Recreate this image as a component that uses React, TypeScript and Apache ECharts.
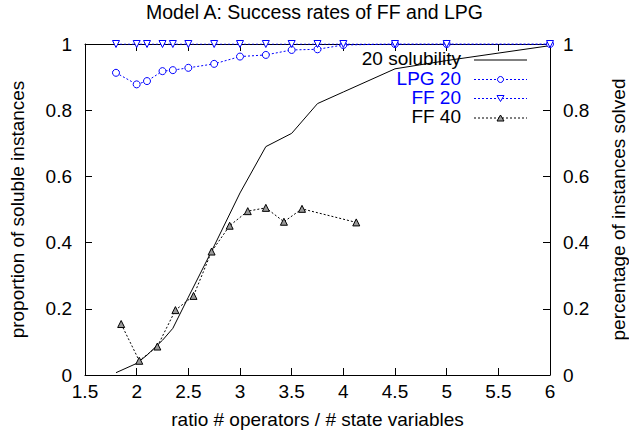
import React, { useEffect, useRef } from "react";
import * as echarts from "echarts";

const ratios20 = [1.8, 2.0, 2.1, 2.25, 2.35, 2.5, 2.75, 3.0, 3.25, 3.5, 3.75, 4.0, 4.5, 5.0, 6.0];
const solubility20 = [0.007, 0.035, 0.06, 0.105, 0.141, 0.235, 0.39, 0.55, 0.69, 0.73, 0.82, 0.855, 0.925, 0.95, 0.995];
const lpg20 = [0.913, 0.878, 0.888, 0.918, 0.921, 0.928, 0.94, 0.962, 0.967, 0.982, 0.984, 0.997, 1.0, 1.0, 1.0];
const ff20 = [1, 1, 1, 1, 1, 1, 1, 1, 1, 1, 1, 1, 1, 1, 1];

const ratios40 = [1.85, 2.025, 2.2, 2.375, 2.55, 2.725, 2.9, 3.075, 3.25, 3.425, 3.6, 4.125];
const ff40 = [0.154, 0.043, 0.086, 0.196, 0.239, 0.373, 0.451, 0.495, 0.505, 0.463, 0.502, 0.461];

const legendNames = ["20 solubility", "LPG 20", "FF 20", "FF 40"];

const FONT = "'Liberation Sans', Arial, Helvetica, sans-serif";
const BLUE = "#0000ff";

function pairs(xs: number[], ys: number[]) {
  return xs.map((x, i) => [x, ys[i]]);
}

export default function App() {
  const ref = useRef<HTMLDivElement>(null);
  useEffect(() => {
    document.body.style.margin = "0";
    const chart = echarts.init(ref.current!, null, { renderer: "svg" });
    const axisText = { color: "#000", fontFamily: FONT, fontSize: 19 };
    const yAxisBase = {
      type: "value",
      min: 0,
      max: 1,
      interval: 0.2,
      splitLine: { show: false },
      axisLine: { show: true, lineStyle: { color: "#000", width: 1 } },
      axisTick: { show: true, inside: true, length: 7, lineStyle: { color: "#000" } },
      axisLabel: { ...axisText, margin: 13 },
      nameLocation: "middle",
      nameRotate: 90,
      nameTextStyle: { ...axisText, lineHeight: 19 },
    };
    const legendY = [60, 79.5, 98.5, 118];
    const legendColors = ["#000", BLUE, BLUE, "#000"];
    const legendDash: any[] = ["solid", [2, 2], [2, 2], [2, 2]];
    const lineColors = ["#000", BLUE, BLUE, "#000"];
    const graphics: any[] = [];
    legendNames.forEach((n, i) => {
      graphics.push({
        type: "text",
        right: 629 - 461,
        top: legendY[i] - 11,
        style: { text: n, fill: legendColors[i], font: `19px ${FONT}`, textAlign: "right" },
      });
      graphics.push({
        type: "line",
        shape: { x1: 474, y1: legendY[i], x2: 527, y2: legendY[i] },
        style: { stroke: lineColors[i], lineWidth: 1, lineDash: legendDash[i] === "solid" ? null : legendDash[i] },
      });
    });
    const mx = 500.5;
    graphics.push({ type: "circle", shape: { cx: mx, cy: legendY[1], r: 3 }, style: { stroke: BLUE, fill: "#fff", lineWidth: 1 } });
    graphics.push({
      type: "polygon",
      shape: { points: [[mx - 3.5, legendY[2] - 3], [mx + 3.5, legendY[2] - 3], [mx, legendY[2] + 3]] },
      style: { stroke: BLUE, fill: "#fff", lineWidth: 1 },
    });
    graphics.push({
      type: "polygon",
      shape: { points: [[mx - 3.5, legendY[3] + 3], [mx + 3.5, legendY[3] + 3], [mx, legendY[3] - 3]] },
      style: { stroke: "#000", fill: "#999", lineWidth: 1 },
    });

    chart.setOption({
      animation: false,
      backgroundColor: "#fff",
      title: {
        text: "Model A: Success rates of FF and LPG",
        left: "center",
        top: 2,
        padding: 0,
        textStyle: { color: "#000", fontFamily: FONT, fontSize: 19.5, fontWeight: "normal" },
      },
      grid: { left: 85, right: 79, top: 44, bottom: 64, containLabel: false, outerBoundsMode: "none" },
      xAxis: [
        {
          type: "value",
          min: 1.5,
          max: 6,
          interval: 0.5,
          position: "bottom",
          splitLine: { show: false },
          axisLine: { show: true, onZero: false, lineStyle: { color: "#000", width: 1 } },
          axisTick: { show: true, inside: true, length: 7, lineStyle: { color: "#000" } },
          axisLabel: { ...axisText, margin: 7 },
          name: "ratio # operators / # state variables",
          nameLocation: "middle",
          nameGap: 35,
          nameTextStyle: { ...axisText },
        },
        {
          type: "value",
          min: 1.5,
          max: 6,
          interval: 0.5,
          position: "top",
          splitLine: { show: false },
          axisLine: { show: true, onZero: false, lineStyle: { color: "#000", width: 1 } },
          axisTick: { show: true, inside: true, length: 7, lineStyle: { color: "#000" } },
          axisLabel: { show: false },
        },
      ],
      yAxis: [
        { ...yAxisBase, position: "left", name: "proportion of soluble instances", nameGap: 58 },
        { ...yAxisBase, position: "right", name: "percentage of instances solved", nameGap: 59 },
      ],
      graphic: graphics,
      series: [
        {
          name: legendNames[0],
          type: "line",
          data: pairs(ratios20, solubility20),
          showSymbol: false,
          symbol: "none",
          lineStyle: { color: "#000", width: 1 },
          z: 2,
        },
        {
          name: legendNames[1],
          type: "line",
          data: pairs(ratios20, lpg20),
          symbol: "circle",
          symbolSize: 7,
          itemStyle: { color: "#fff", borderColor: BLUE, borderWidth: 1 },
          lineStyle: { color: BLUE, width: 1, type: [2, 2] },
          z: 3,
        },
        {
          name: legendNames[2],
          type: "line",
          data: pairs(ratios20, ff20),
          symbol: "triangle",
          symbolRotate: 180,
          symbolSize: 7,
          itemStyle: { color: "#fff", borderColor: BLUE, borderWidth: 1 },
          lineStyle: { color: BLUE, width: 1, type: [2, 2] },
          z: 4,
        },
        {
          name: legendNames[3],
          type: "line",
          data: pairs(ratios40, ff40),
          symbol: "triangle",
          symbolSize: 7,
          itemStyle: { color: "#999", borderColor: "#000", borderWidth: 1 },
          lineStyle: { color: "#000", width: 1, type: [2, 2] },
          z: 5,
        },
      ],
    });
    return () => chart.dispose();
  }, []);
  return <div ref={ref} style={{ position: "fixed", left: 0, top: 0, width: 629, height: 439 }} />;
}
